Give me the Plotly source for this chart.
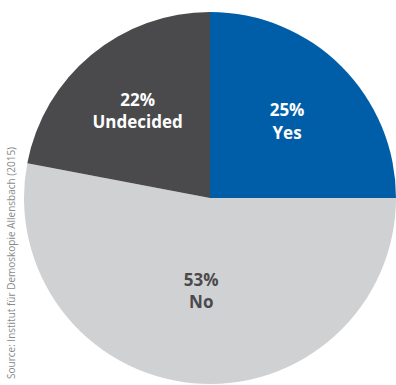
import plotly.graph_objects as go

labels = ["Yes", "No", "Undecided"]
values = [25, 53, 22]
colors = ["#005ea8", "#d0d1d3", "#4a4a4c"]
text_colors = ["#ffffff", "#4a4a4c", "#ffffff"]
source = "Source: Institut für Demoskopie Allensbach (2015)"

fig = go.Figure(go.Pie(
    labels=labels,
    values=values,
    sort=False,
    direction="clockwise",
    rotation=0,
    marker=dict(colors=colors, line=dict(width=0)),
    texttemplate="%{percent:.0%}<br>%{label}",
    textposition="inside",
    insidetextorientation="horizontal",
    textfont=dict(family="Open Sans", size=17, color=text_colors, weight="bold"),
    hoverinfo="skip",
    showlegend=False,
))

fig.update_layout(
    width=396, height=385,
    margin=dict(l=24, r=0, t=12, b=1),
    paper_bgcolor="white",
    plot_bgcolor="white",
    uniformtext=dict(minsize=17, mode="show"),
    annotations=[dict(
        text=source, textangle=-90, showarrow=False,
        xref="paper", yref="paper", x=-0.035, y=0.008,
        xanchor="center", yanchor="bottom",
        font=dict(family="Open Sans", size=10, color="#8a8a8a"),
    )],
)

fig.write_html("out.html")
